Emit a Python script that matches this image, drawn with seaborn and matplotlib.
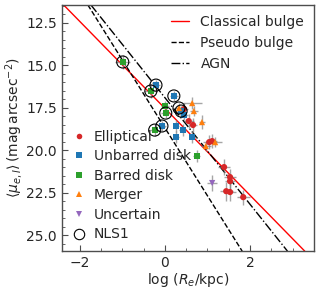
import numpy as np
import pandas as pd
import matplotlib
matplotlib.use('Agg')
import matplotlib.pyplot as plt
from matplotlib.lines import Line2D
import seaborn as sns

########################################
# DATA
########################################
ell_x = [0.45, 0.56, 0.66, 1.04, 1.11, 1.39, 1.53, 1.53, 1.44, 1.53, 1.84]
ell_y = [17.57, 18.28, 18.51, 19.52, 19.46, 20.99, 21.58, 21.82, 22.41, 22.46, 22.76]
ell_xerr = [0.10, 0.12, 0.10, 0.15, 0.12, 0.15, 0.15, 0.12, 0.15, 0.15, 0.15]
ell_yerr = [0.35, 0.40, 0.40, 0.40, 0.40, 0.45, 0.45, 0.45, 0.55, 0.55, 0.45]

unb_x = [-0.21, 0.21, 0.38, 0.45, -0.07, 0.26, 0.42, 0.26, 0.64]
unb_y = [16.16, 16.80, 17.69, 17.92, 18.57, 18.57, 18.81, 19.22, 19.22]
unb_xerr = [0.10, 0.10, 0.10, 0.10, 0.10, 0.08, 0.08, 0.08, 0.08]
unb_yerr = [0.30, 0.30, 0.30, 0.30, 0.30, 0.35, 0.35, 0.35, 0.35]
unb_nls1 = [1, 1, 1, 0, 1, 0, 0, 0, 0]

bar_x = [-0.99, -0.33, 0.00, 0.02, -0.24, 0.75]
bar_y = [14.80, 16.51, 17.39, 17.81, 18.81, 20.34]
bar_xerr = [0.18, 0.15, 0.10, 0.10, 0.12, 0.08]
bar_yerr = [0.40, 0.40, 0.30, 0.30, 0.35, 0.35]
bar_nls1 = [1, 1, 0, 1, 1, 0]

mer_x = [0.33, 0.64, 0.68, 0.87, 1.18, 0.96]
mer_y = [17.51, 17.22, 17.69, 18.34, 19.52, 19.75]
mer_xerr = [0.10, 0.22, 0.10, 0.08, 0.15, 0.12]
mer_yerr = [0.30, 0.35, 0.30, 0.40, 0.30, 0.30]
mer_nls1 = [1, 0, 0, 0, 0, 0]

unc_x = [1.11]
unc_y = [21.93]
unc_xerr = [0.12]
unc_yerr = [0.45]

# relations: mu_e = a + b * log Re
rel_names = ["Classical bulge", "Pseudo bulge", "AGN"]
rel_a = [17.53, 18.68, 16.90]
rel_b = [2.56, 4.00, 3.14]

########################################
# TABLE
########################################
frames = []
for name, xs, ys, xe, ye, nl in [
    ("Elliptical", ell_x, ell_y, ell_xerr, ell_yerr, [0] * len(ell_x)),
    ("Unbarred disk", unb_x, unb_y, unb_xerr, unb_yerr, unb_nls1),
    ("Barred disk", bar_x, bar_y, bar_xerr, bar_yerr, bar_nls1),
    ("Merger", mer_x, mer_y, mer_xerr, mer_yerr, mer_nls1),
    ("Uncertain", unc_x, unc_y, unc_xerr, unc_yerr, [0]),
]:
    frames.append(pd.DataFrame({"x": xs, "y": ys, "xerr": xe, "yerr": ye,
                                "type": name, "nls1": nl}))
df = pd.concat(frames, ignore_index=True)

palette = {"Elliptical": "#d62728", "Unbarred disk": "#1f77b4",
           "Barred disk": "#2ca02c", "Merger": "#ff7f0e", "Uncertain": "#9467bd"}
markers = {"Elliptical": "o", "Unbarred disk": "s", "Barred disk": "s",
           "Merger": "^", "Uncertain": "v"}

########################################
# PLOT
########################################
sns.set_style("ticks")
plt.rcParams['font.family'] = ['DejaVu Sans']
plt.rcParams['mathtext.fontset'] = 'dejavusans'

fig = plt.figure(figsize=(3.19, 2.91), dpi=100)
ax = fig.add_axes([0.194, 0.137, 0.790, 0.846])

rel_styles = [dict(color="red", ls="-"), dict(color="black", ls="--"),
              dict(color="black", ls="-.")]
for name, a, b, st in zip(rel_names, rel_a, rel_b, rel_styles):
    ax.axline((0, a), slope=b, lw=1.0, label=name, zorder=1, **st)

ax.errorbar(df["x"], df["y"], xerr=df["xerr"], yerr=df["yerr"], fmt="none",
            ecolor="gray", elinewidth=1.0, alpha=0.7, capsize=0, zorder=2)

sns.scatterplot(data=df, x="x", y="y", hue="type", style="type",
                palette=palette, markers=markers, s=20, edgecolor="none",
                legend=False, ax=ax, zorder=3)

nl = df[df["nls1"] == 1]
sns.scatterplot(data=nl, x="x", y="y", marker="o", s=75, facecolor="none",
                edgecolor="black", linewidth=0.8, legend=False, ax=ax, zorder=4)

ax.set_xlim(-2.42, 3.5)
ax.set_ylim(25.94, 11.44)
ax.set_xticks([-2, 0, 2])
ax.set_yticks([12.5, 15.0, 17.5, 20.0, 22.5, 25.0])
ax.minorticks_on()
ax.tick_params(which="both", direction="in", top=False, right=False,
               labelsize=10, color="0.3")
ax.tick_params(which="major", length=4)
ax.tick_params(which="minor", length=2.5)
for sp in ax.spines.values():
    sp.set_color("0.3")
    sp.set_linewidth(1.0)

ax.set_xlabel(r"$\log\,(R_e/{\rm kpc})$", fontsize=10, labelpad=1)
ax.set_ylabel(r"$\langle\mu_{e,I}\rangle\,({\rm mag\,arcsec^{-2}})$",
              fontsize=10, labelpad=1)

leg1 = ax.legend(loc="upper right", frameon=False, fontsize=10,
                 handlelength=1.3, borderaxespad=0.3)
ax.add_artist(leg1)

handles = [Line2D([], [], ls="none", marker=markers[k], color=palette[k],
                  markersize=4, markeredgewidth=0) for k in palette]
handles.append(Line2D([], [], ls="none", marker="o", markerfacecolor="none",
                      markeredgecolor="black", markersize=7.5, markeredgewidth=0.8))
labels = list(palette.keys()) + ["NLS1"]
ax.legend(handles, labels, loc="lower left", frameon=False, fontsize=10,
          handlelength=1.0, handletextpad=0.6, labelspacing=0.4,
          borderaxespad=0.3)

fig.savefig("out.png", dpi=100)
